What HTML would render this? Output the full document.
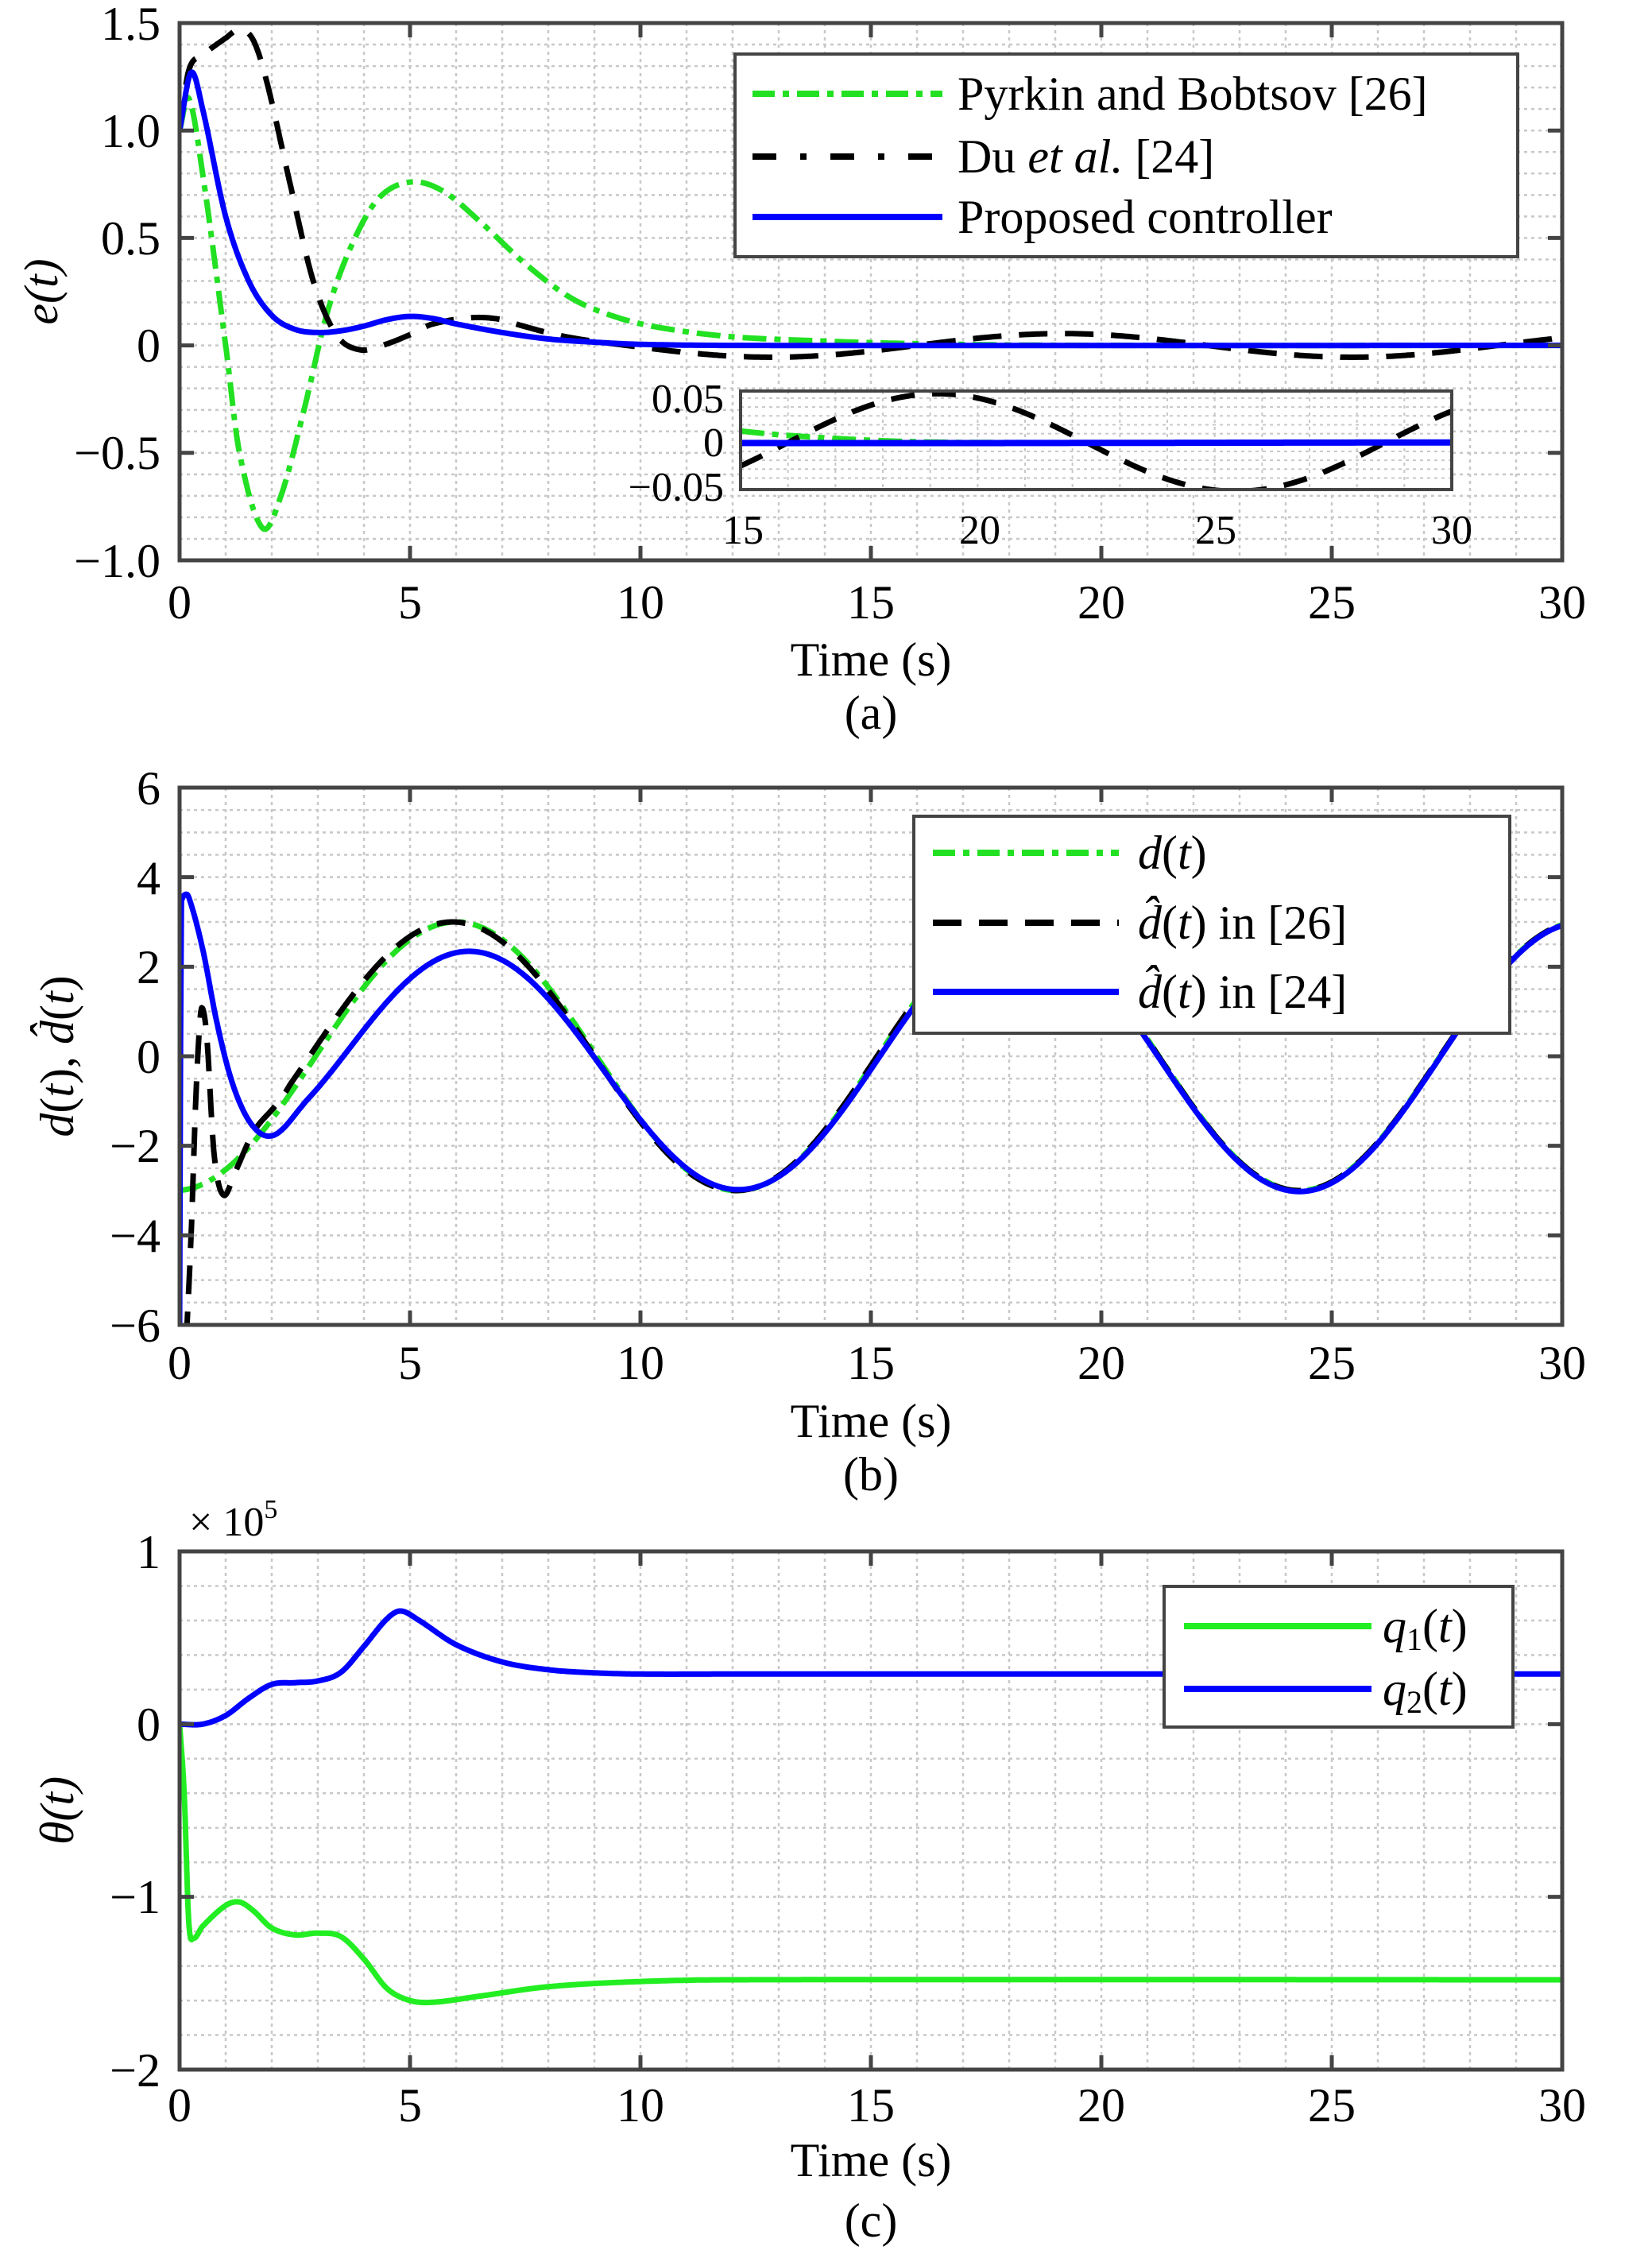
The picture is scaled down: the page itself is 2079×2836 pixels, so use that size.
<!DOCTYPE html>
<html><head><meta charset="utf-8">
<style>
html,body{margin:0;padding:0;background:#fff;}
svg{display:block;}
text{font-family:"Liberation Serif","DejaVu Serif",serif;fill:#000;}
</style></head>
<body>
<svg id="s" width="2079" height="2836" viewBox="0 0 2079 2836" xmlns="http://www.w3.org/2000/svg">
<rect width="2079" height="2836" fill="#fff"/>
<g id="grids"></g>
<g id="curves"></g>
<g id="frames"></g>

<g font-size="60" text-anchor="end">
<text x="202" y="50">1.5</text>
<text x="202" y="185">1.0</text>
<text x="202" y="320">0.5</text>
<text x="202" y="455">0</text>
<text x="202" y="590">−0.5</text>
<text x="202" y="726">−1.0</text>
</g>
<g font-size="60" text-anchor="middle">
<text x="226" y="778">0</text><text x="516" y="778">5</text><text x="806" y="778">10</text>
<text x="1096" y="778">15</text><text x="1386" y="778">20</text><text x="1676" y="778">25</text><text x="1966" y="778">30</text>
<text x="1096" y="850">Time (s)</text>
<text x="1096" y="917">(a)</text>
</g>
<text font-size="60" font-style="italic" text-anchor="middle" transform="translate(72,367) rotate(-90)">e(t)</text>

<g font-size="60" text-anchor="end">
<text x="202" y="1012">6</text><text x="202" y="1125">4</text><text x="202" y="1237">2</text>
<text x="202" y="1350">0</text><text x="202" y="1462">−2</text><text x="202" y="1575">−4</text><text x="202" y="1688">−6</text>
</g>
<g font-size="60" text-anchor="middle">
<text x="226" y="1735">0</text><text x="516" y="1735">5</text><text x="806" y="1735">10</text>
<text x="1096" y="1735">15</text><text x="1386" y="1735">20</text><text x="1676" y="1735">25</text><text x="1966" y="1735">30</text>
<text x="1096" y="1808">Time (s)</text>
<text x="1096" y="1875">(b)</text>
</g>
<text font-size="60" text-anchor="middle" transform="translate(92,1329) rotate(-90)"><tspan font-style="italic">d</tspan>(<tspan font-style="italic">t</tspan>), <tspan font-style="italic">d̂</tspan>(<tspan font-style="italic">t</tspan>)</text>

<g font-size="60" text-anchor="end">
<text x="202" y="1973">1</text><text x="202" y="2190">0</text><text x="202" y="2407">−1</text><text x="202" y="2625">−2</text>
</g>
<text x="238" y="1932" font-size="52">× 10<tspan font-size="34" dy="-22">5</tspan></text>
<g font-size="60" text-anchor="middle">
<text x="226" y="2669">0</text><text x="516" y="2669">5</text><text x="806" y="2669">10</text>
<text x="1096" y="2669">15</text><text x="1386" y="2669">20</text><text x="1676" y="2669">25</text><text x="1966" y="2669">30</text>
<text x="1096" y="2738">Time (s)</text>
<text x="1096" y="2814">(c)</text>
</g>
<text font-size="60" font-style="italic" text-anchor="middle" transform="translate(92,2278) rotate(-90)">θ(t)</text>

<g id="legends">
<rect x="925" y="68" width="985" height="255" fill="#fff" stroke="#444" stroke-width="4"/>
<line x1="947" y1="118" x2="1186" y2="118" stroke="#22e022" stroke-width="8" stroke-dasharray="28 10 8 10"/>
<line x1="947" y1="197" x2="1186" y2="197" stroke="#000" stroke-width="8" stroke-dasharray="30 30 8 30"/>
<line x1="947" y1="273" x2="1186" y2="273" stroke="#0000ff" stroke-width="8"/>
<g font-size="60">
<text x="1205" y="138">Pyrkin and Bobtsov [26]</text>
<text x="1205" y="217">Du <tspan font-style="italic">et al.</tspan> [24]</text>
<text x="1205" y="293">Proposed controller</text>
</g>

<rect x="1150" y="1027" width="750" height="273" fill="#fff" stroke="#444" stroke-width="4"/>
<line x1="1174" y1="1073" x2="1408" y2="1073" stroke="#22e022" stroke-width="8" stroke-dasharray="28 10 8 10"/>
<line x1="1174" y1="1161" x2="1408" y2="1161" stroke="#000" stroke-width="8" stroke-dasharray="36 22"/>
<line x1="1174" y1="1248" x2="1408" y2="1248" stroke="#0000ff" stroke-width="8"/>
<g font-size="60">
<text x="1432" y="1093"><tspan font-style="italic">d</tspan>(<tspan font-style="italic">t</tspan>)</text>
<text x="1432" y="1181"><tspan font-style="italic">d̂</tspan>(<tspan font-style="italic">t</tspan>) in [26]</text>
<text x="1432" y="1268"><tspan font-style="italic">d̂</tspan>(<tspan font-style="italic">t</tspan>) in [24]</text>
</g>

<rect x="1465" y="1996" width="439" height="177" fill="#fff" stroke="#444" stroke-width="4"/>
<line x1="1490" y1="2046" x2="1726" y2="2046" stroke="#22ee22" stroke-width="8"/>
<line x1="1490" y1="2125" x2="1726" y2="2125" stroke="#0000ff" stroke-width="8"/>
<g font-size="60" font-style="italic">
<text x="1740" y="2066">q<tspan font-style="normal" font-size="40" dy="10">1</tspan><tspan font-style="normal" dy="-10">(</tspan>t<tspan font-style="normal">)</tspan></text>
<text x="1740" y="2145">q<tspan font-style="normal" font-size="40" dy="10">2</tspan><tspan font-style="normal" dy="-10">(</tspan>t<tspan font-style="normal">)</tspan></text>
</g>
</g>

<g id="inset">
<rect x="932" y="492" width="895" height="124" fill="#fff" stroke="#444" stroke-width="4"/>
<g id="insetgrid"></g>
<g id="insetcurves"></g>
<rect x="932" y="492" width="895" height="124" fill="none" stroke="#444" stroke-width="4"/>
<g font-size="52" text-anchor="end">
<text x="911" y="519">0.05</text><text x="911" y="574">0</text><text x="911" y="630">−0.05</text>
</g>
<g font-size="52" text-anchor="middle">
<text x="935" y="684">15</text><text x="1233" y="684">20</text><text x="1530" y="684">25</text><text x="1827" y="684">30</text>
</g>
</g>
</svg>
<script>
(function(){
var NS="http://www.w3.org/2000/svg";
function el(parent,tag,attrs){var e=document.createElementNS(NS,tag);for(var k in attrs)e.setAttribute(k,attrs[k]);document.getElementById(parent).appendChild(e);return e;}
var L=226,R=1966;
var panels=[
 {top:29,bot:705,ymin:-1,ymax:1.5,ystep:0.1,major:0.5},
 {top:991,bot:1667,ymin:-6,ymax:6,ystep:0.5,major:2},
 {top:1952,bot:2604,ymin:-2,ymax:1,ystep:0.2,major:1}
];
panels.forEach(function(p,i){
  var pid='clip'+i;
  var defs=el('grids','defs',{});
  var cp=document.createElementNS(NS,'clipPath');cp.setAttribute('id',pid);
  var r=document.createElementNS(NS,'rect');r.setAttribute('x',L);r.setAttribute('y',p.top);r.setAttribute('width',R-L);r.setAttribute('height',p.bot-p.top);
  cp.appendChild(r);defs.appendChild(cp);
  for(var t=1;t<30;t++){var x=L+t*(R-L)/30;el('grids','line',{x1:x,x2:x,y1:p.top,y2:p.bot,stroke:'#c8c8c8','stroke-width':2.5,'stroke-dasharray':'4 5'});}
  var n=Math.round((p.ymax-p.ymin)/p.ystep);
  for(var k=1;k<n;k++){var y=p.bot-k*(p.bot-p.top)/n;el('grids','line',{x1:L,x2:R,y1:y,y2:y,stroke:'#c8c8c8','stroke-width':2.5,'stroke-dasharray':'4 5'});}
  el('frames','rect',{x:L,y:p.top,width:R-L,height:p.bot-p.top,fill:'none',stroke:'#444','stroke-width':5});
  for(var t=5;t<30;t+=5){var x=L+t*(R-L)/30;el('frames','line',{x1:x,x2:x,y1:p.bot,y2:p.bot-18,stroke:'#444','stroke-width':5});el('frames','line',{x1:x,x2:x,y1:p.top,y2:p.top+18,stroke:'#444','stroke-width':5});}
  var nm=Math.round((p.ymax-p.ymin)/p.major);
  for(var k=1;k<nm;k++){var y=p.bot-k*(p.bot-p.top)/nm;el('frames','line',{x1:L,x2:L+18,y1:y,y2:y,stroke:'#444','stroke-width':5});el('frames','line',{x1:R,x2:R-18,y1:y,y2:y,stroke:'#444','stroke-width':5});}
});
function cr(pts){return function(t){
  if(t<=pts[0][0])return pts[0][1];
  var n=pts.length;if(t>=pts[n-1][0])return pts[n-1][1];
  var i=0;while(pts[i+1][0]<t)i++;
  var p0=pts[Math.max(i-1,0)],p1=pts[i],p2=pts[i+1],p3=pts[Math.min(i+2,n-1)];
  var u=(t-p1[0])/(p2[0]-p1[0]);
  var m1=(p2[1]-p0[1])/(p2[0]-p0[0])*(p2[0]-p1[0]);
  var m2=(p3[1]-p1[1])/(p3[0]-p1[0])*(p2[0]-p1[0]);
  var h00=2*u*u*u-3*u*u+1,h10=u*u*u-2*u*u+u,h01=-2*u*u*u+3*u*u,h11=u*u*u-u*u;
  return h00*p1[1]+h10*m1+h01*p2[1]+h11*m2;};}
function path(g,f,p,t0,t1,x0,x1,ymin,ymax,top,bot,attrs,clip){
  var d='';var N=1500;
  for(var i=0;i<=N;i++){var t=t0+(t1-t0)*i/N;var v=f(t);
    var x=x0+(t-t0)/(t1-t0)*(x1-x0);var y=top+(ymax-v)/(ymax-ymin)*(bot-top);
    d+=(i?'L':'M')+x.toFixed(1)+' '+y.toFixed(1);}
  attrs.d=d;attrs.fill='none';attrs['stroke-linejoin']='round';if(clip)attrs['clip-path']='url(#'+clip+')';
  el(g,'path',attrs);
}
var blueA=cr([[0,1],[0.25,1.27],[0.5,1.1],[1,0.6],[1.5,0.3],[2,0.14],[2.5,0.075],[3,0.06],[3.5,0.068],[4,0.09],[4.5,0.12],[5,0.135],[5.5,0.125],[6,0.1],[7,0.06],[8,0.03],[9,0.015],[10,0.005],[12,0],[30,0]]);
var greenA=cr([[0,1],[0.2,1.15],[0.5,0.8],[1,0.0],[1.3,-0.5],[1.8,-0.85],[2.2,-0.7],[2.7,-0.3],[3.2,0.15],[3.7,0.45],[4.3,0.68],[5,0.76],[5.7,0.72],[6.5,0.58],[7.5,0.38],[8.5,0.22],[9.5,0.13],[10.5,0.08],[12,0.04],[14,0.02],[15,0.013],[16,0.008],[18,0.002],[20,0],[30,0]]);
var bk0=cr([[0,1],[0.2,1.28],[0.5,1.35],[1,1.43],[1.3,1.47],[1.6,1.42],[1.9,1.22],[2.4,0.75],[2.9,0.3],[3.4,0.05],[3.9,-0.02],[4.4,0.0],[5,0.05],[5.5,0.1],[6.5,0.13],[7.5,0.1],[8.5,0.05],[9,0.03]]);
function blackA(t){var s=0.055*Math.sin(2*Math.PI*(t-16)/12.6);if(t>=9)return s;if(t<7)return bk0(t);var w=(t-7)/2;return bk0(t)*(1-w)+s*w;}
path('curves',greenA,0,0,30,L,R,-1,1.5,29,705,{stroke:'#22e022','stroke-width':7,'stroke-dasharray':'30 10 8 10'},'clip0');
path('curves',blackA,0,0,30,L,R,-1,1.5,29,705,{stroke:'#000','stroke-width':7,'stroke-dasharray':'36 22'},'clip0');
path('curves',blueA,0,0,30,L,R,-1,1.5,29,705,{stroke:'#0000ff','stroke-width':7},'clip0');
var ix0=932,ix1=1827,it=492,ib=616,iymax=0.058,iymin=-0.053;
for(var t=16;t<30;t++){var x=ix0+(t-15)/15*(ix1-ix0);el('insetgrid','line',{x1:x,x2:x,y1:it,y2:ib,stroke:'#c8c8c8','stroke-width':2,'stroke-dasharray':'4 5'});}
for(var k=-4;k<=5;k++){var v=k*0.01;var y=it+(iymax-v)/(iymax-iymin)*(ib-it);el('insetgrid','line',{x1:ix0,x2:ix1,y1:y,y2:y,stroke:'#c8c8c8','stroke-width':2,'stroke-dasharray':'4 5'});}
var defs=el('insetcurves','defs',{});var cp=document.createElementNS(NS,'clipPath');cp.setAttribute('id','clipi');var r=document.createElementNS(NS,'rect');r.setAttribute('x',ix0);r.setAttribute('y',it);r.setAttribute('width',ix1-ix0);r.setAttribute('height',ib-it);cp.appendChild(r);defs.appendChild(cp);
path('insetcurves',greenA,0,15,30,ix0,ix1,iymin,iymax,it,ib,{stroke:'#22e022','stroke-width':7,'stroke-dasharray':'30 10 8 10'},'clipi');
path('insetcurves',blackA,0,15,30,ix0,ix1,iymin,iymax,it,ib,{stroke:'#000','stroke-width':7,'stroke-dasharray':'30 22'},'clipi');
path('insetcurves',blueA,0,15,30,ix0,ix1,iymin,iymax,it,ib,{stroke:'#0000ff','stroke-width':8},'clipi');
function dG(t){return -3*Math.cos(2*Math.PI*(t+0.1)/12.2);}
var bb0=cr([[0,-7],[0.1,-7],[0.25,-4],[0.35,-1],[0.45,0.9],[0.52,1.0],[0.6,0.3],[0.75,-2.2],[0.95,-3.1],[1.2,-2.6],[1.6,-1.7],[2,-1.2],[2.4,-0.75]]);
function dB(t){var s=-3*Math.cos(2*Math.PI*(t+0.1+0.15*Math.exp(-(t-2)/6))/12.2);if(t<2)return bb0(t);if(t>2.4)return s;var w=(t-2)/0.4;return bb0(t)*(1-w)+s*w;}
var bl0=cr([[0.03,3.45],[0.1,3.6],[0.2,3.55],[0.5,2.4],[0.8,0.8],[1.1,-0.45],[1.4,-1.25],[1.7,-1.68],[2,-1.8],[2.3,-1.72],[2.6,-1.5]]);
function blF(t){var Lg=0.95*Math.exp(-(t-2)/1.8),A=3-1.4*Math.exp(-(t-2)/4),off=-0.25*Math.exp(-(t-2)/10);return -A*Math.cos(2*Math.PI*(t+0.1-Lg)/12.2)+off;}
function dBl(t){if(t<0.03)return -6+(9.45)*t/0.03;if(t<1.8)return bl0(t);if(t>2.8)return blF(t);var w=(t-1.8)/1.0;w=w*w*(3-2*w);return bl0(Math.min(t,2.6))*(1-w)+blF(t)*w;}
path('curves',dG,1,0,30,L,R,-6,6,991,1667,{stroke:'#22e022','stroke-width':7,'stroke-dasharray':'30 10 8 10'},'clip1');
path('curves',dB,1,0,30,L,R,-6,6,991,1667,{stroke:'#000','stroke-width':7,'stroke-dasharray':'36 22'},'clip1');
path('curves',dBl,1,0,30,L,R,-6,6,991,1667,{stroke:'#0000ff','stroke-width':7},'clip1');
var q2=cr([[0,0],[0.5,0.0],[1,0.05],[1.5,0.15],[2,0.23],[2.5,0.24],[3,0.25],[3.5,0.3],[4,0.45],[4.5,0.61],[4.8,0.655],[5.2,0.6],[6,0.46],[7,0.36],[8,0.315],[9,0.297],[10,0.29],[12,0.29],[30,0.29]]);
var q1=cr([[0,0],[0.1,-0.4],[0.2,-1.15],[0.3,-1.24],[0.5,-1.17],[1,-1.05],[1.3,-1.03],[1.6,-1.08],[2,-1.18],[2.5,-1.22],[3,-1.21],[3.5,-1.23],[4,-1.36],[4.5,-1.53],[5,-1.6],[5.5,-1.61],[6.5,-1.575],[8,-1.52],[10,-1.49],[12,-1.48],[30,-1.48]]);
path('curves',q1,2,0,30,L,R,-2,1,1952,2604,{stroke:'#22ee22','stroke-width':7},'clip2');
path('curves',q2,2,0,30,L,R,-2,1,1952,2604,{stroke:'#0000ff','stroke-width':7},'clip2');
var s=document.getElementById('s');s.appendChild(document.getElementById('legends'));s.appendChild(document.getElementById('inset'));
})();
</script>
</body></html>
